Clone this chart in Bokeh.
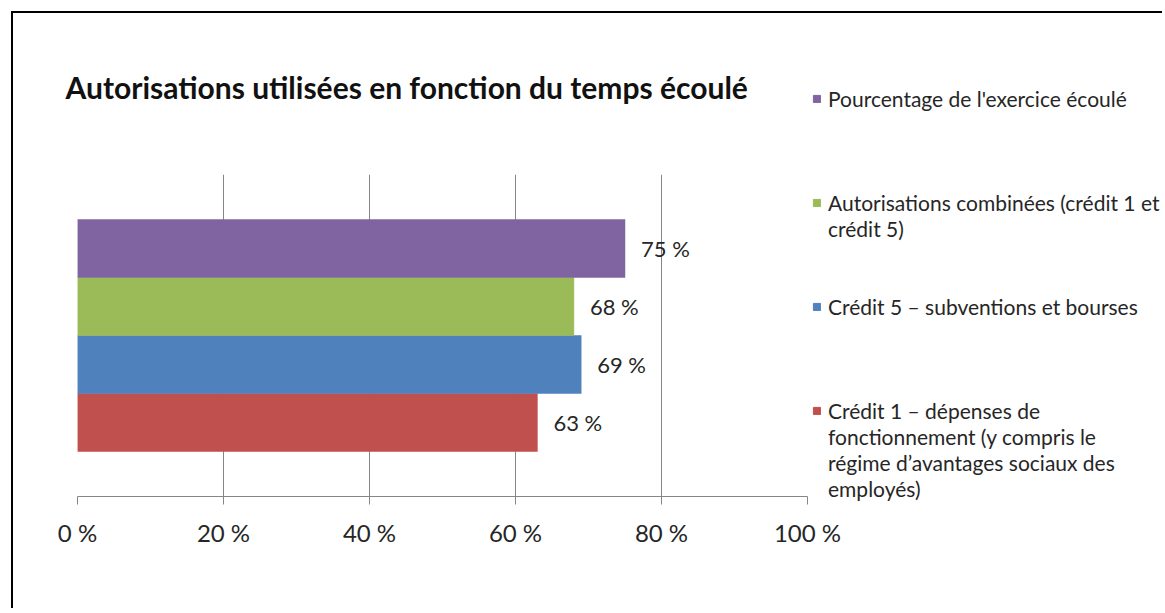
from bokeh.plotting import figure
from bokeh.layouts import row
from bokeh.models import (ColumnDataSource, FactorRange, FixedTicker, LabelSet,
                          Legend, LegendItem, Label)
from bokeh.core.properties import value
from bokeh.embed import file_html
from bokeh.resources import INLINE

# ---- data ----
title_text = "Autorisations utilisées en fonction du temps écoulé"
categories = ["c1", "c5", "comb", "pct"]          # bottom to top
series_lines = [
    ["Crédit 1 – dépenses de", "fonctionnement (y compris le",
     "régime d’avantages sociaux des", "employés)"],
    ["Crédit 5 – subventions et bourses"],
    ["Autorisations combinées (crédit 1 et", "crédit 5)"],
    ["Pourcentage de l'exercice écoulé"],
]
values = [63, 69, 68, 75]
value_labels = ["63 %", "69 %", "68 %", "75 %"]
colors = ["#C0504D", "#4F81BD", "#9BBB59", "#8064A2"]
tick_values = [0, 20, 40, 60, 80, 100]
tick_labels = ["0 %", "20 %", "40 %", "60 %", "80 %", "100 %"]

FONT = "Lato"
GRID = "#868686"
W, H = 1149, 595

src = ColumnDataSource(dict(cat=categories, val=values, lab=value_labels, col=colors))

# ---- main chart ----
p = figure(width=860, height=H, output_backend="svg", toolbar_location=None,
           y_range=FactorRange(factors=categories, range_padding=0.776,
                               range_padding_units="absolute"),
           x_range=(0, 100),
           min_border_left=64, min_border_right=66,
           min_border_top=161, min_border_bottom=112)
p.frame_align = False
p.outline_line_color = None
p.background_fill_color = "white"
p.border_fill_color = "white"

r = p.hbar(y="cat", right="val", left=0, height=1.0, source=src,
           fill_color="col", line_color="col", line_width=0.5)

labels = LabelSet(x="val", y="cat", text="lab", source=src, x_offset=16,
                  text_baseline="middle", text_font=value(FONT),
                  text_font_size="22px", text_color="#262626")
p.add_layout(labels)

p.yaxis.visible = False
p.ygrid.visible = False
xa = p.xaxis[0]
xa.ticker = FixedTicker(ticks=tick_values)
xa.major_label_overrides = {v: t for v, t in zip(tick_values, tick_labels)}
xa.axis_line_color = GRID
xa.major_tick_line_color = GRID
xa.major_tick_in = 0
xa.major_tick_out = 8
xa.minor_tick_line_color = None
xa.major_label_standoff = 13
xa.major_label_text_font = FONT
xa.major_label_text_font_size = "24px"
xa.major_label_text_color = "#262626"
p.xgrid.ticker = FixedTicker(ticks=tick_values)
p.xgrid.grid_line_color = GRID
p.xgrid.grid_line_width = 1
p.title.text = ""

# ---- transparent overlay holding the title and the legend ----
ov = figure(width=W, height=H, output_backend="svg", toolbar_location=None,
            x_range=(0, 100), y_range=FactorRange(factors=categories),
            x_axis_location=None, y_axis_location=None, min_border=0)
ov.frame_align = False
ov.margin = (0, 0, 0, -860)
ov.outline_line_color = None
ov.background_fill_color = None
ov.border_fill_color = None
ov.xgrid.visible = False
ov.ygrid.visible = False
rl = ov.hbar(y="cat", right="val", left=0, height=1.0, source=src,
             fill_color="col", line_color="col")
rl.visible = False

title = Label(x=52, y=H - 73, x_units="screen", y_units="screen",
              text=title_text, text_font=FONT, text_font_style="bold",
              text_font_size="30px", text_color="#111111",
              text_baseline="middle", text_align="left")
ov.add_layout(title)

# one row per text line; first lines of entries at rows 0, 4, 8, 12
entry_order = [3, 2, 1, 0]
entry_rows = [0, 4, 8, 12]
items = []
n = 0
for idx, start in zip(entry_order, entry_rows):
    while n < start:
        items.append(LegendItem(label="", renderers=[]))
        n += 1
    for k, line in enumerate(series_lines[idx]):
        items.append(LegendItem(label=line, renderers=[rl] if k == 0 else [],
                                index=idx if k == 0 else None))
        n += 1

leg = Legend(items=items, location=(799, 107),
             label_text_font=FONT, label_text_font_size="21px",
             label_text_color="#262626",
             label_height=26,
             glyph_width=9, glyph_height=9, label_standoff=7,
             padding=0, margin=0, spacing=0,
             border_line_color=None, background_fill_alpha=0)
ov.add_layout(leg, "center")

lay = row(p, ov)
lay.margin = (11, 0, 0, 11)
lay.styles = {"border-left": "2px solid black", "border-top": "2px solid black"}

open("out.html", "w").write(file_html(lay, INLINE))
